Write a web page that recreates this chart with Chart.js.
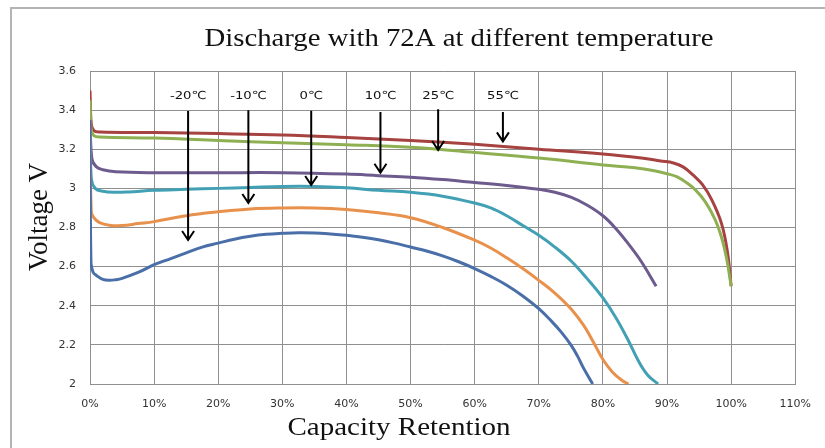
<!DOCTYPE html>
<html>
<head>
<meta charset="utf-8">
<script src="https://cdn.jsdelivr.net/npm/chart.js@4"></script>
<style>
    body { margin: 0; background: #fff; }
    #wrap { position: relative; width: 825px; height: 448px; }
    #frame { position: absolute; left: 10px; top: 7px; right: -5px; bottom: -5px;
             border-left: 2px solid #b4b4b4; border-top: 2px solid #b4b4b4; pointer-events: none; }
</style>
</head>
<body>
<div id="wrap">
    <canvas id="dischargeChart" width="825" height="448"></canvas>
    <div id="frame"></div>
</div>
<script>
// Capacity retention (%) and voltage (V), one pair per temperature
const capM20 = [0, 0.15, 0.5, 1, 2, 3, 4, 5, 7.5, 10, 12.5, 15, 17.5, 20, 22.5, 25, 27.5, 30, 32.5, 35, 37.5, 40, 42.5, 45, 47.5, 50, 52.5, 55, 57.5, 60, 62.5, 65, 67.5, 70, 72, 73.5, 75, 76, 77, 78.4];
const voltM20 = [3.3, 2.62, 2.57, 2.555, 2.535, 2.53, 2.533, 2.54, 2.57, 2.61, 2.64, 2.67, 2.70, 2.72, 2.74, 2.755, 2.765, 2.77, 2.773, 2.772, 2.767, 2.76, 2.75, 2.737, 2.72, 2.70, 2.68, 2.655, 2.625, 2.59, 2.55, 2.505, 2.45, 2.385, 2.32, 2.265, 2.2, 2.145, 2.08, 2.0];

const capM10 = [0, 0.2, 0.6, 1.5, 3, 5, 7.5, 10, 15, 20, 25, 30, 35, 40, 45, 50, 55, 60, 62.5, 65, 67.5, 70, 72.5, 75, 77, 78.5, 80, 81.5, 83, 84];
const voltM10 = [3.3, 2.88, 2.85, 2.825, 2.812, 2.81, 2.82, 2.83, 2.86, 2.88, 2.895, 2.9, 2.9, 2.892, 2.875, 2.85, 2.80, 2.735, 2.695, 2.645, 2.59, 2.53, 2.465, 2.385, 2.3, 2.215, 2.125, 2.06, 2.018, 2.0];

const cap0 = [0, 0.2, 0.8, 2, 4, 6, 10, 15, 20, 25, 30, 35, 40, 45, 50, 55, 60, 62.5, 65, 67.5, 70, 72.5, 75, 77.5, 80, 82, 84, 85.5, 87, 88.6];
const volt0 = [3.3, 3.05, 3.0, 2.985, 2.98, 2.982, 2.99, 2.995, 3.0, 3.005, 3.01, 3.01, 3.003, 2.99, 2.98, 2.96, 2.925, 2.9, 2.86, 2.81, 2.76, 2.70, 2.63, 2.54, 2.44, 2.34, 2.22, 2.12, 2.045, 2.0];

const cap10 = [0, 0.3, 1, 2, 4, 10, 20, 30, 40, 45, 50, 55, 60, 65, 70, 72.5, 75, 77.5, 80, 82, 84, 86, 88.3];
const volt10 = [3.35, 3.15, 3.11, 3.095, 3.085, 3.08, 3.08, 3.08, 3.073, 3.065, 3.057, 3.045, 3.03, 3.015, 2.995, 2.98, 2.955, 2.915, 2.86, 2.795, 2.715, 2.625, 2.5];

const cap25 = [0, 0.2, 0.6, 1.5, 10, 20, 30, 40, 50, 60, 70, 80, 85, 88, 90, 91.5, 93, 94.5, 96, 97.5, 98.5, 99.3, 100];
const volt25 = [3.45, 3.3, 3.27, 3.262, 3.257, 3.245, 3.233, 3.223, 3.21, 3.183, 3.155, 3.12, 3.105, 3.09, 3.075, 3.06, 3.03, 2.99, 2.93, 2.84, 2.75, 2.64, 2.5];

const cap55 = [0, 0.2, 0.6, 1.5, 10, 20, 30, 40, 50, 60, 70, 80, 86, 89, 91, 92.5, 94, 95.5, 97, 98.5, 99.4, 100];
const volt55 = [3.5, 3.33, 3.295, 3.288, 3.285, 3.28, 3.273, 3.26, 3.245, 3.225, 3.2, 3.176, 3.155, 3.14, 3.13, 3.11, 3.07, 3.02, 2.94, 2.82, 2.68, 2.5];

// Arrow annotations: label, x position (%), arrow top and tip (V)
const arrowLabels = ['-20℃', '-10℃', '0℃', '10℃', '25℃', '55℃'];
const arrowCap = [15.3, 24.7, 34.5, 45.3, 54.3, 64.4];
const arrowTop = [3.396, 3.4, 3.397, 3.39, 3.405, 3.39];
const arrowTip = [2.736, 2.925, 3.017, 3.08, 3.196, 3.24];
const arrowLabelV = 3.472;

const xTicks = [0, 10, 20, 30, 40, 50, 60, 70, 80, 90, 100, 110];
const yTicks = [2, 2.2, 2.4, 2.6, 2.8, 3, 3.2, 3.4, 3.6];

function pairs(xs, ys) {
    return xs.map((x, i) => ({ x: x, y: ys[i] }));
}

const series = [
    { label: '-20℃', cap: capM20, volt: voltM20, color: '#4a6fa8' },
    { label: '-10℃', cap: capM10, volt: voltM10, color: '#e8914c' },
    { label: '0℃', cap: cap0, volt: volt0, color: '#42a0b4' },
    { label: '10℃', cap: cap10, volt: volt10, color: '#6d5b8e' },
    { label: '25℃', cap: cap25, volt: volt25, color: '#8fb052' },
    { label: '55℃', cap: cap55, volt: volt55, color: '#a6423f' }
];

// the reference text is a bit wider than the fonts we have, so stretch it sideways
function stretchedText(ctx, text, x, y, sx) {
    ctx.save();
    ctx.translate(x, y);
    ctx.scale(sx, 1);
    ctx.fillText(text, 0, 0);
    ctx.restore();
}

// Titles and arrows drawn on the canvas
const annotationsPlugin = {
    id: 'annotations',
    afterDatasetsDraw(chart) {
        const ctx = chart.ctx;
        const xs = chart.scales.x;
        const ys = chart.scales.y;
        ctx.save();
        ctx.strokeStyle = '#000';
        ctx.lineWidth = 2;
        ctx.fillStyle = '#111';
        ctx.font = '11px "DejaVu Sans"';
        ctx.textAlign = 'center';
        ctx.textBaseline = 'middle';
        for (let i = 0; i < arrowLabels.length; i++) {
            const x = xs.getPixelForValue(arrowCap[i]);
            const y1 = ys.getPixelForValue(arrowTop[i]);
            const y2 = ys.getPixelForValue(arrowTip[i]);
            ctx.beginPath();
            ctx.moveTo(x, y1);
            ctx.lineTo(x, y2);
            ctx.moveTo(x - 6, y2 - 9);
            ctx.lineTo(x, y2);
            ctx.lineTo(x + 6, y2 - 9);
            ctx.stroke();
            stretchedText(ctx, arrowLabels[i], x, ys.getPixelForValue(arrowLabelV), 1.2);
        }
        ctx.restore();
    },
    afterDraw(chart) {
        const ctx = chart.ctx;
        ctx.save();
        ctx.fillStyle = '#111';
        ctx.textAlign = 'center';
        ctx.textBaseline = 'middle';
        ctx.font = '25px "Liberation Serif"';
        stretchedText(ctx, 'Discharge with 72A at different temperature', 459, 39, 1.15);
        stretchedText(ctx, 'Capacity Retention', 399, 428, 1.16);
        ctx.font = '27px "Liberation Serif"';
        ctx.translate(40, 217);
        ctx.rotate(-Math.PI / 2);
        ctx.fillText('Voltage V', 0, 0);
        ctx.restore();
    }
};

const ctx = document.getElementById('dischargeChart');
new Chart(ctx, {
    type: 'line',
    data: {
        datasets: series.map(s => ({
            label: s.label,
            data: pairs(s.cap, s.volt),
            borderColor: s.color,
            backgroundColor: s.color,
            borderWidth: 3,
            pointRadius: 0,
            tension: 0.4,
            fill: false
        }))
    },
    options: {
        responsive: false,
        animation: false,
        layout: {
            padding: { top: 71, right: 28, bottom: 0, left: 0 }
        },
        plugins: {
            legend: { display: false },
            title: { display: false },
            tooltip: { enabled: false }
        },
        scales: {
            x: {
                type: 'linear',
                min: 0,
                max: 110,
                afterBuildTicks: scale => { scale.ticks = xTicks.map(v => ({ value: v })); },
                afterFit: scale => { scale.height = 64; },
                grid: { color: '#8f8f8f', lineWidth: 1, drawTicks: false },
                border: { color: '#8f8f8f' },
                ticks: {
                    padding: 14,
                    color: '#333',
                    font: { family: 'DejaVu Sans', size: 11 },
                    callback: v => v + '%'
                }
            },
            y: {
                min: 2,
                max: 3.6,
                afterBuildTicks: scale => { scale.ticks = yTicks.map(v => ({ value: v })); },
                afterFit: scale => { scale.width = 90; },
                grid: { color: '#8f8f8f', lineWidth: 1, drawTicks: false },
                border: { color: '#8f8f8f' },
                ticks: {
                    padding: 14,
                    color: '#333',
                    font: { family: 'DejaVu Sans', size: 11 },
                    callback: v => String(parseFloat(v.toFixed(1)))
                }
            }
        }
    },
    plugins: [annotationsPlugin]
});
</script>
</body>
</html>
